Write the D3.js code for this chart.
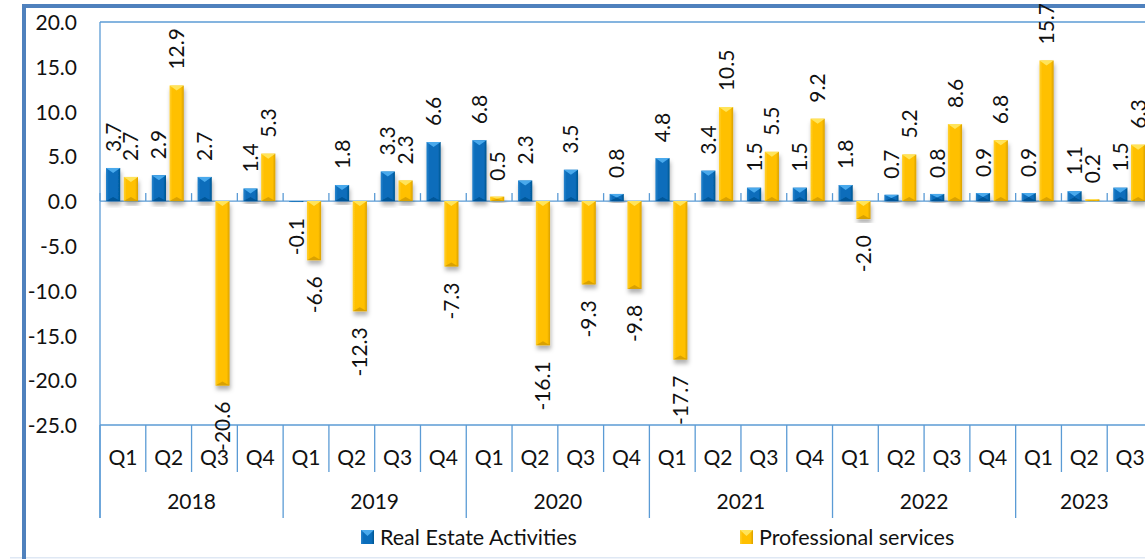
<!DOCTYPE html>
<html>
<head>
<meta charset="utf-8">
<script src="https://cdn.jsdelivr.net/npm/d3@7"></script>
<style>
  html, body { margin: 0; padding: 0; background: #fff; }
  svg text { font-family: Lato, "Open Sans", sans-serif; fill: #111; }
</style>
</head>
<body>
<div id="chart"></div>
<script>
// quarters shown on the category axis
const periods = [
    '2018 Q1', '2018 Q2', '2018 Q3', '2018 Q4',
    '2019 Q1', '2019 Q2', '2019 Q3', '2019 Q4',
    '2020 Q1', '2020 Q2', '2020 Q3', '2020 Q4',
    '2021 Q1', '2021 Q2', '2021 Q3', '2021 Q4',
    '2022 Q1', '2022 Q2', '2022 Q3', '2022 Q4',
    '2023 Q1', '2023 Q2', '2023 Q3'
];
const realEstate = [
    3.7, 2.9, 2.7, 1.4,
    -0.1, 1.8, 3.3, 6.6,
    6.8, 2.3, 3.5, 0.8,
    4.8, 3.4, 1.5, 1.5,
    1.8, 0.7, 0.8, 0.9,
    0.9, 1.1, 1.5
];
const professional = [
    2.7, 12.9, -20.6, 5.3,
    -6.6, -12.3, 2.3, -7.3,
    0.5, -16.1, -9.3, -9.8,
    -17.7, 10.5, 5.5, 9.2,
    -2.0, 5.2, 8.6, 6.8,
    15.7, 0.2, 6.3
];
const seriesNames = ['Real Estate Activities', 'Professional services'];
const yTicks = [20, 15, 10, 5, 0, -5, -10, -15, -20, -25];

const W = 1145, H = 559;
const plot = { left: 100, top: 22, right: 1153, bottom: 425 };
const axisColor = '#5b9bd5';
// plain hyphen for negatives, like the source workbook
const fmt = (v) => v.toFixed(1);

const svg = d3.select('#chart').append('svg')
    .attr('width', W)
    .attr('height', H);

const defs = svg.append('defs');

// bevel-ish gradients for the bars
const palettes = [
    { id: 'grad-re', stops: ['#2a84cc', '#0a6dbb', '#00558f'], top: '#49a9ec', bottom: '#004a82' },
    { id: 'grad-ps', stops: ['#ffd030', '#ffc000', '#d9a000'], top: '#ffe45a', bottom: '#c08c00' }
];
palettes.forEach((p) => {
    const g = defs.append('linearGradient').attr('id', p.id)
        .attr('x1', 0).attr('x2', 1).attr('y1', 0).attr('y2', 0);
    g.append('stop').attr('offset', '0%').attr('stop-color', p.stops[0]);
    g.append('stop').attr('offset', '20%').attr('stop-color', p.stops[1]);
    g.append('stop').attr('offset', '80%').attr('stop-color', p.stops[1]);
    g.append('stop').attr('offset', '100%').attr('stop-color', p.stops[2]);
});

const shadow = defs.append('filter').attr('id', 'bar-shadow')
    .attr('x', '-50%').attr('y', '-20%').attr('width', '200%').attr('height', '140%');
shadow.append('feDropShadow')
    .attr('dx', 1).attr('dy', 4).attr('stdDeviation', 2.2)
    .attr('flood-color', '#000').attr('flood-opacity', 0.3);

// outer frame (cropped chart border)
svg.append('rect')
    .attr('x', 10).attr('y', 557).attr('width', W).attr('height', 1.5)
    .attr('fill', '#dfe8f4');
svg.append('rect')
    .attr('x', 22).attr('y', 4).attr('width', 4).attr('height', H)
    .attr('fill', '#4f81bd');
svg.append('rect')
    .attr('x', 22).attr('y', 4).attr('width', W).attr('height', 4)
    .attr('fill', '#4f81bd');

const x = d3.scaleBand()
    .domain(d3.range(periods.length))
    .range([plot.left, plot.right])
    .padding(0);

const inner = d3.scaleBand()
    .domain([0, 1])
    .range([6, 38])
    .paddingInner(0.2);

const y = d3.scaleLinear()
    .domain([-25, 20])
    .range([plot.bottom, plot.top]);

// plot area border
svg.append('line')
    .attr('x1', plot.left).attr('x2', plot.right + 20)
    .attr('y1', plot.top).attr('y2', plot.top)
    .attr('stroke', axisColor).attr('stroke-width', 1.3);
svg.append('line')
    .attr('x1', plot.left).attr('x2', plot.right + 20)
    .attr('y1', plot.bottom).attr('y2', plot.bottom)
    .attr('stroke', axisColor).attr('stroke-width', 1.3);

// y axis
const yAxis = d3.axisLeft(y)
    .tickValues(yTicks)
    .tickFormat(fmt)
    .tickSize(0)
    .tickPadding(23);
const yg = svg.append('g')
    .attr('transform', `translate(${plot.left},0)`)
    .call(yAxis);
yg.select('.domain').remove();
yg.selectAll('text')
    .style('font-size', '21px')
    .attr('dy', '0.36em');
svg.append('line')
    .attr('x1', plot.left).attr('x2', plot.left)
    .attr('y1', plot.top).attr('y2', 518)
    .attr('stroke', axisColor).attr('stroke-width', 1.3);

// category rows below the plot
const years = Array.from(new Set(periods.map((p) => p.split(' ')[0])));
const quarterRow = 472;
const yearRow = 518;

const catGroup = svg.append('g').attr('class', 'categories');
d3.range(periods.length + 1).forEach((i) => {
    const xx = i < periods.length ? x(i) : plot.right;
    const isYearEdge = i === 0 || i === periods.length ||
        periods[i].split(' ')[0] !== periods[i - 1].split(' ')[0];
    catGroup.append('line')
        .attr('x1', xx).attr('x2', xx)
        .attr('y1', plot.bottom).attr('y2', isYearEdge ? yearRow : quarterRow)
        .attr('stroke', axisColor).attr('stroke-width', 1.3);
    // small tick marks on the zero line
    catGroup.append('line')
        .attr('x1', xx).attr('x2', xx)
        .attr('y1', y(0) - 8).attr('y2', y(0))
        .attr('stroke', axisColor).attr('stroke-width', 1.3);
});

catGroup.selectAll('text.quarter')
    .data(periods)
    .enter().append('text')
    .attr('class', 'quarter')
    .attr('x', (d, i) => x(i) + x.bandwidth() / 2)
    .attr('y', 457)
    .attr('dy', '0.36em')
    .attr('text-anchor', 'middle')
    .style('font-size', '21px')
    .text((d) => d.split(' ')[1]);

catGroup.selectAll('text.year')
    .data(years)
    .enter().append('text')
    .attr('class', 'year')
    .attr('x', (yr) => {
        const idx = periods.map((p, i) => [p, i]).filter((d) => d[0].startsWith(yr)).map((d) => d[1]);
        return (x(idx[0]) + x(idx[idx.length - 1]) + x.bandwidth()) / 2;
    })
    .attr('y', 501)
    .attr('dy', '0.36em')
    .attr('text-anchor', 'middle')
    .style('font-size', '21px')
    .text((d) => d);

// zero line
svg.append('line')
    .attr('x1', plot.left).attr('x2', plot.right + 20)
    .attr('y1', y(0)).attr('y2', y(0))
    .attr('stroke', axisColor).attr('stroke-width', 1.3);

// bars
const series = [realEstate, professional];
const bars = [];
series.forEach((vals, s) => {
    vals.forEach((v, i) => bars.push({ s, i, v }));
});

const barW = inner.bandwidth();
const barG = svg.append('g').attr('class', 'bars');

const bar = barG.selectAll('g.bar')
    .data(bars)
    .enter().append('g')
    .attr('class', 'bar')
    .attr('filter', 'url(#bar-shadow)');

bar.append('rect')
    .attr('x', (d) => x(d.i) + inner(d.s))
    .attr('y', (d) => y(Math.max(0, d.v)))
    .attr('width', barW)
    .attr('height', (d) => Math.abs(y(d.v) - y(0)))
    .attr('fill', (d) => `url(#${palettes[d.s].id})`);

// light bevel on the upper face, dark on the lower face
bar.append('path')
    .attr('d', (d) => {
        const x0 = x(d.i) + inner(d.s);
        const top = y(Math.max(0, d.v));
        const h = Math.min(5, Math.abs(y(d.v) - y(0)) / 2);
        return `M${x0},${top}L${x0 + barW},${top}L${x0 + barW / 2},${top + h}Z`;
    })
    .attr('fill', (d) => palettes[d.s].top);

bar.append('path')
    .attr('d', (d) => {
        const x0 = x(d.i) + inner(d.s);
        const bot = y(Math.min(0, d.v));
        const h = Math.min(4, Math.abs(y(d.v) - y(0)) / 2);
        return `M${x0},${bot}L${x0 + barW},${bot}L${x0 + barW / 2},${bot - h}Z`;
    })
    .attr('fill', (d) => palettes[d.s].bottom)
    .attr('opacity', 0.6);

// value labels, rotated
const labelGap = 16;
svg.append('g').attr('class', 'labels')
    .selectAll('text')
    .data(bars)
    .enter().append('text')
    .each(function (d) {
        const cx = x(d.i) + inner(d.s) + barW / 2;
        const cy = d.v >= 0 ? y(d.v) - labelGap : y(d.v) + labelGap;
        d3.select(this)
            .attr('x', cx)
            .attr('y', cy)
            .attr('dy', '0.36em')
            .attr('transform', `rotate(-90, ${cx}, ${cy})`)
            .attr('text-anchor', d.v >= 0 ? 'start' : 'end');
    })
    .style('font-size', '21px')
    .text((d) => fmt(d.v));

// legend
const legend = svg.append('g').attr('class', 'legend');
const legendX = [361, 740];
seriesNames.forEach((name, s) => {
    const lg = legend.append('g').attr('transform', `translate(${legendX[s]}, 530)`);
    lg.append('rect')
        .attr('width', 13).attr('height', 14)
        .attr('fill', `url(#${palettes[s].id})`);
    lg.append('path')
        .attr('d', 'M0,0L13,0L6.5,6Z')
        .attr('fill', palettes[s].top);
    lg.append('text')
        .attr('x', 19)
        .attr('y', 7)
        .attr('dy', '0.36em')
        .style('font-size', '21.5px')
        .text(name);
});
</script>
</body>
</html>
